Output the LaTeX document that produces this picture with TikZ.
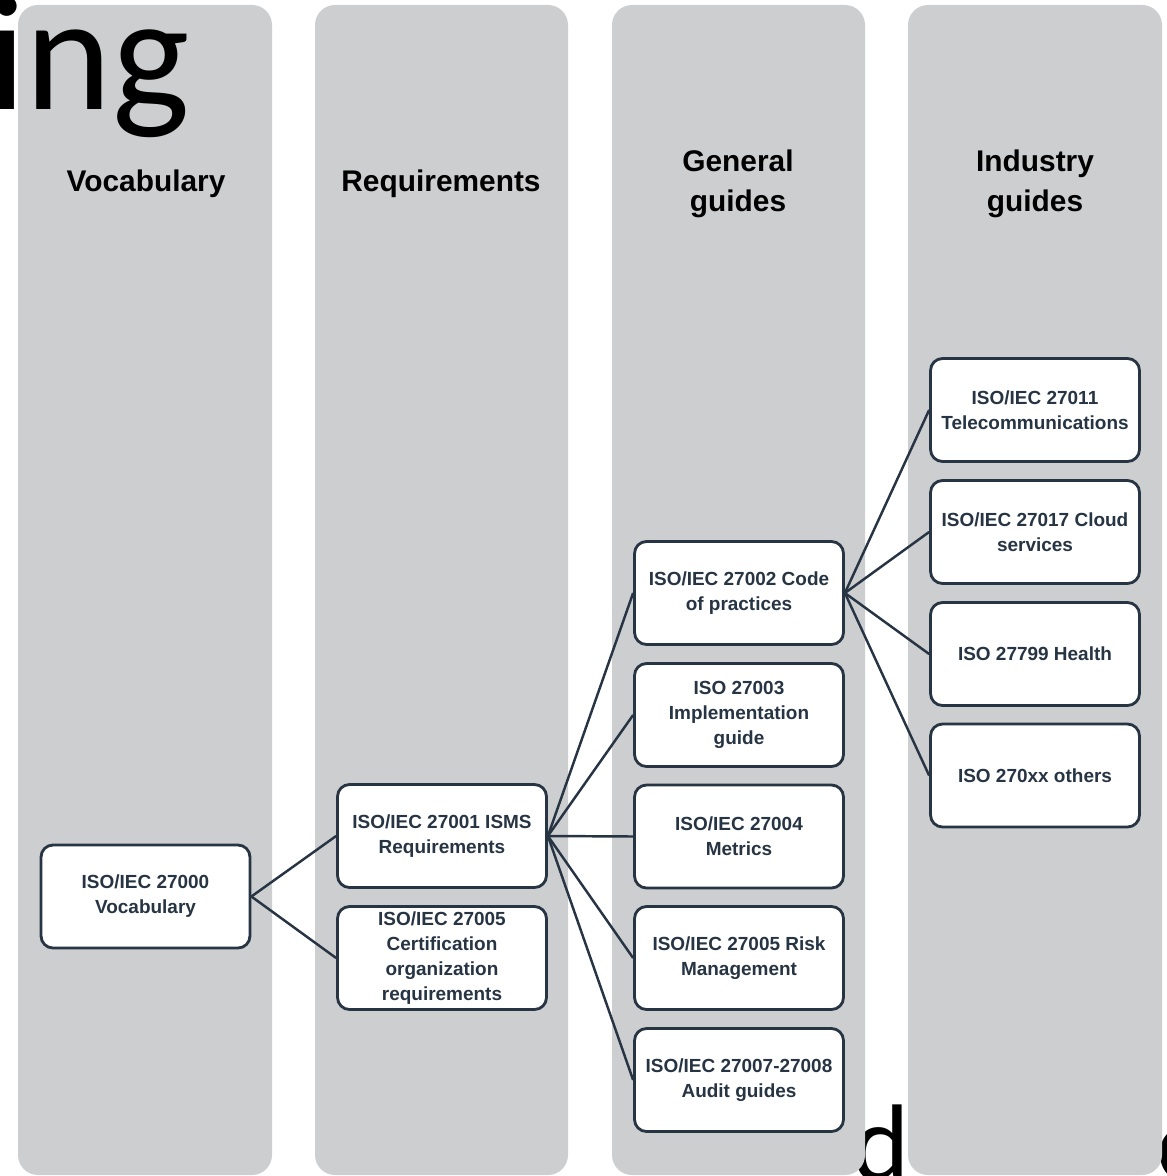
\documentclass[tikz,border=0pt]{standalone}
\usepackage{fontspec}
\setmainfont{Liberation Sans}
\newfontfamily\slidefont{Carlito}
\usetikzlibrary{calc}

\definecolor{colgray}{RGB}{205,206,208}
\definecolor{navy}{RGB}{38,52,67}

\begin{document}
\begin{tikzpicture}[x=0.02cm,y=-0.02cm,
	column/.style={fill=colgray,rounded corners=0.4cm},
	head/.style={font=\fontsize{17}{22.7}\selectfont\bfseries,align=center,inner sep=0},
	big/.style={anchor=base west,inner sep=0,font=\slidefont\fontsize{93.5}{93.5}\selectfont},
	box/.style={draw=navy,fill=white,line width=1.6pt,rounded corners=0.24cm,minimum width=4.18cm,minimum height=2.06cm,align=center,inner sep=0,text=navy,font=\fontsize{10.8}{14.2}\selectfont\bfseries},
	link/.style={draw=navy,line width=1.4pt}]
	\useasboundingbox (0,0) rectangle (1166,1176);
	\clip (0,0) rectangle (1166,1176);

	% slide text behind the columns
	\draw (852,1180) node (sub) [big,font=\slidefont\fontsize{62}{62}\selectfont] {d};
	\draw (1156,1180) node (sub2) [big,font=\slidefont\fontsize{62}{62}\selectfont] {e};

	\fill[column] (18,5) rectangle (272,1175);
	\fill[column] (315,5) rectangle (568,1175);
	\fill[column] (612,5) rectangle (865,1175);
	\fill[column] (908,5) rectangle (1162,1175);

	\draw (-12,110) node (title) [big] {ing};

	\draw (146,184) node (hvoc) [head] {Vocabulary};
	\draw (441,184) node (hreq) [head] {Requirements};
	\draw (738,184) node (hgen) [head] {General\\guides};
	\draw (1035,184) node (hind) [head] {Industry\\guides};

	\draw (145.5,896.5) node (voc) [box] {ISO/IEC 27000\\Vocabulary};

	\draw (442,836) node (isms) [box] {ISO/IEC 27001 ISMS\\Requirements};
	\draw (442,958) node (cert) [box] {ISO/IEC 27005\\Certification\\organization\\requirements};

	\draw (739,593) node (code) [box] {ISO/IEC 27002 Code\\of practices};
	\draw (739,715) node (impl) [box] {ISO 27003\\Implementation\\guide};
	\draw (739,836.5) node (metr) [box] {ISO/IEC 27004\\Metrics};
	\draw (739,958) node (risk) [box] {ISO/IEC 27005 Risk\\Management};
	\draw (739,1080) node (audit) [box] {ISO/IEC 27007-27008\\Audit guides};

	\draw (1035,410) node (tele) [box] {ISO/IEC 27011\\Telecommunications};
	\draw (1035,532) node (cloud) [box] {ISO/IEC 27017 Cloud\\services};
	\draw (1035,654) node (health) [box] {ISO 27799 Health};
	\draw (1035,775.5) node (other) [box] {ISO 270xx others};

	\draw[link] (voc.east) -- (isms.west);
	\draw[link] (voc.east) -- (cert.west);

	\draw[link] (isms.east) -- (code.west);
	\draw[link] (isms.east) -- (impl.west);
	\draw[link] (isms.east) -- (metr.west);
	\draw[link] (isms.east) -- (risk.west);
	\draw[link] (isms.east) -- (audit.west);

	\draw[link] (code.east) -- (tele.west);
	\draw[link] (code.east) -- (cloud.west);
	\draw[link] (code.east) -- (health.west);
	\draw[link] (code.east) -- (other.west);
\end{tikzpicture}
\end{document}
